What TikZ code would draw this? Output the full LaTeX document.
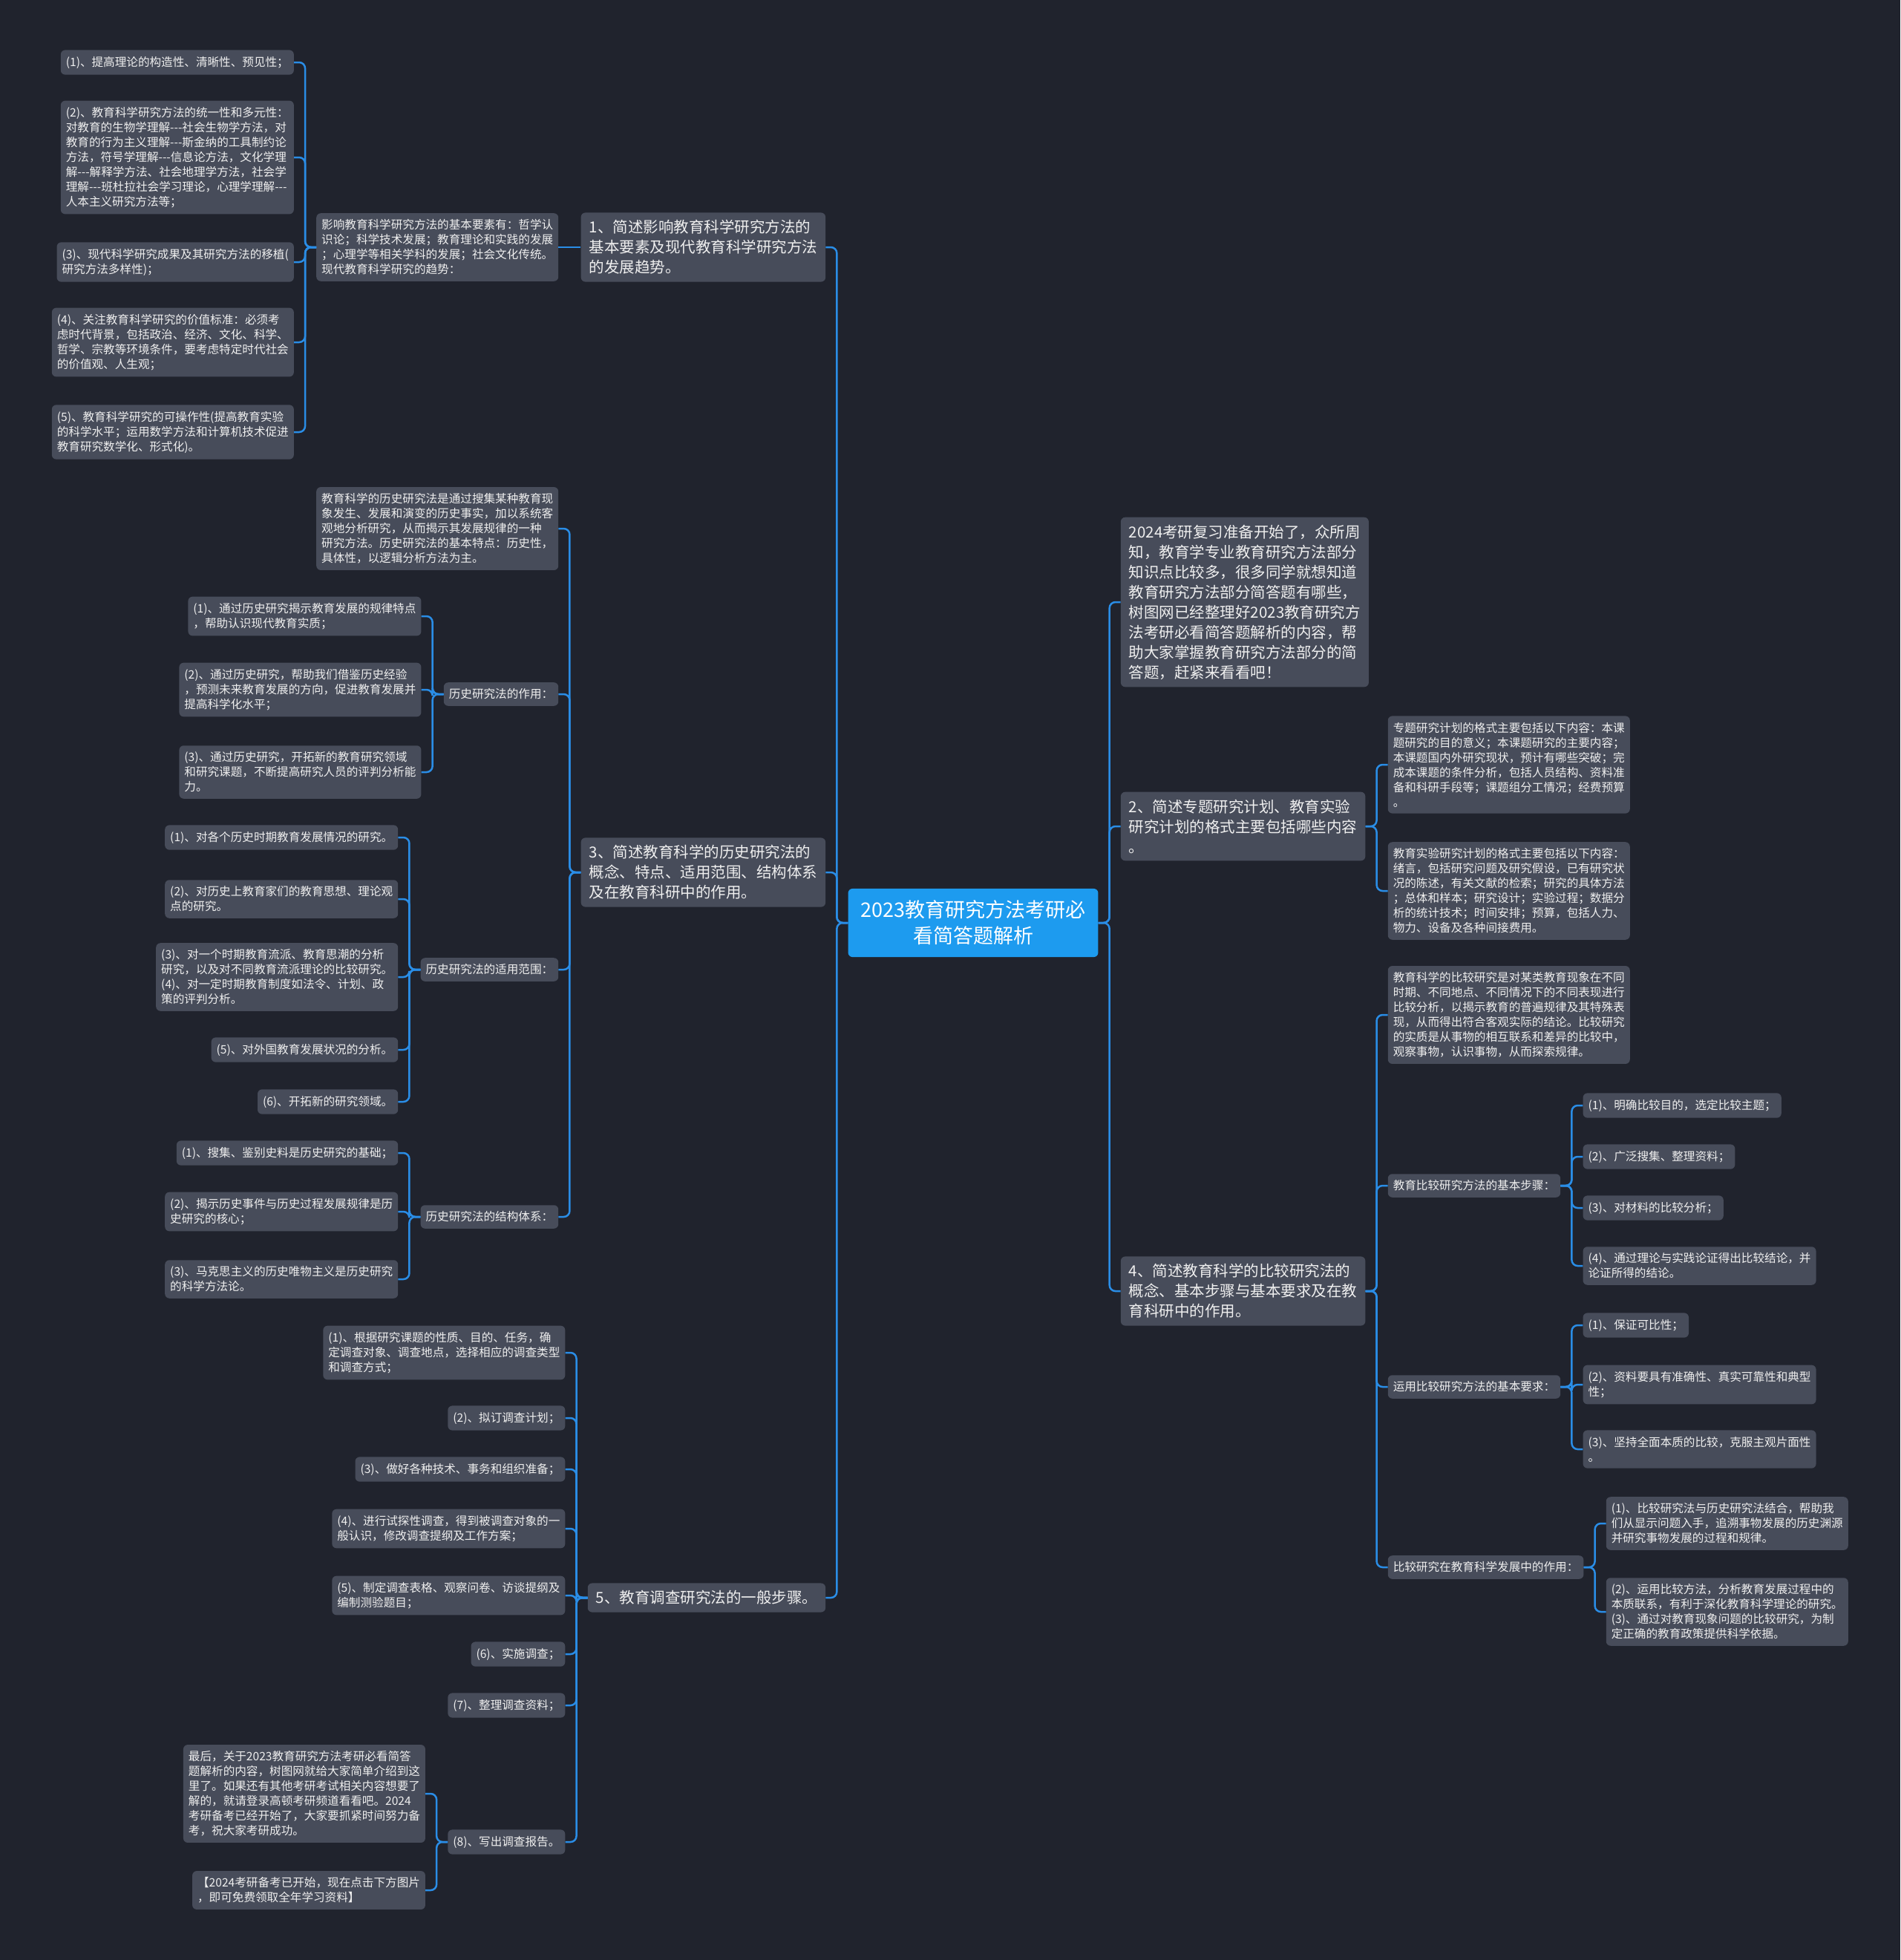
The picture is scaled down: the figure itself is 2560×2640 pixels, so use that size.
\documentclass[tikz,border=0pt]{standalone}
\usepackage{fontspec}
\usepackage{xcolor}
\usepackage{tikz}
\usetikzlibrary{positioning}

\newfontfamily\cjk{Noto Sans CJK SC}

\definecolor{fundo}{HTML}{20232D}
\definecolor{caixa}{HTML}{474C5A}
\definecolor{linha}{HTML}{2A8DE6}
\definecolor{raiz}{HTML}{1D9BEF}
\definecolor{texto}{HTML}{EFEFEF}

\begin{document}
\begin{tikzpicture}[
    x=1pt, y=-1pt,
    node distance=30pt, % distância fixa entre pai e filhos
    every node/.style={
        fill=caixa,
        text=texto,
        rounded corners=6pt,
        align=left
    },
    leaf/.style={inner xsep=7pt, inner ysep=8.5pt, font=\cjk\fontsize{15.6}{20}\selectfont},
    topic/.style={inner xsep=11pt, inner ysep=10pt, font=\cjk\fontsize{20.5}{27}\selectfont},
    root/.style={fill=raiz, text=white, align=center, inner xsep=17pt, inner ysep=16pt,
        font=\cjk\fontsize{27}{35}\selectfont},
    link/.style={draw=linha, line width=2.5pt, rounded corners=8pt}
]
\useasboundingbox (0,0) rectangle (2560,2640);
\fill[fundo] (0,0) rectangle (2560,2640);

% --- Nó central ---
\node[root] (root) at (1311,1243) {2023教育研究方法考研必\\看简答题解析};

% --- Lado esquerdo: ramos 1, 3 e 5 ---
\node[topic] (b1) [left=of root, yshift=910pt] {1、简述影响教育科学研究方法的\\基本要素及现代教育科学研究方法\\的发展趋势。};
\node[topic] (b3) [left=of root, yshift=68pt] {3、简述教育科学的历史研究法的\\概念、特点、适用范围、结构体系\\及在教育科研中的作用。};
\node[topic] (b5) [left=of root, yshift=-909pt] {5、教育调查研究法的一般步骤。};

% ramo 1
\node[leaf] (b1c) [left=of b1] {影响教育科学研究方法的基本要素有：哲学认\\识论；科学技术发展；教育理论和实践的发展\\；心理学等相关学科的发展；社会文化传统。\\现代教育科学研究的趋势：};
\node[leaf] (l1) [left=of b1c, yshift=249pt] {(1)、提高理论的构造性、清晰性、预见性；};
\node[leaf] (l2) [left=of b1c, yshift=121pt] {(2)、教育科学研究方法的统一性和多元性：\\对教育的生物学理解---社会生物学方法，对\\教育的行为主义理解---斯金纳的工具制约论\\方法，符号学理解---信息论方法，文化学理\\解---解释学方法、社会地理学方法，社会学\\理解---班杜拉社会学习理论，心理学理解---\\人本主义研究方法等；};
\node[leaf] (l3) [left=of b1c, yshift=-20pt] {(3)、现代科学研究成果及其研究方法的移植(\\研究方法多样性)；};
\node[leaf] (l4) [left=of b1c, yshift=-128pt] {(4)、关注教育科学研究的价值标准：必须考\\虑时代背景，包括政治、经济、文化、科学、\\哲学、宗教等环境条件，要考虑特定时代社会\\的价值观、人生观；};
\node[leaf] (l5) [left=of b1c, yshift=-249pt] {(5)、教育科学研究的可操作性(提高教育实验\\的科学水平；运用数学方法和计算机技术促进\\教育研究数学化、形式化)。};

% ramo 3
\node[leaf] (c3a) [left=of b3, yshift=463pt] {教育科学的历史研究法是通过搜集某种教育现\\象发生、发展和演变的历史事实，加以系统客\\观地分析研究，从而揭示其发展规律的一种\\研究方法。历史研究法的基本特点：历史性，\\具体性，以逻辑分析方法为主。};
\node[leaf] (c3b) [left=of b3, yshift=240pt] {历史研究法的作用：};
\node[leaf] (c3c) [left=of b3, yshift=-131pt] {历史研究法的适用范围：};
\node[leaf] (c3d) [left=of b3, yshift=-464pt] {历史研究法的结构体系：};

\node[leaf] (r1) [left=of c3b, yshift=105pt] {(1)、通过历史研究揭示教育发展的规律特点\\，帮助认识现代教育实质；};
\node[leaf] (r2) [left=of c3b, yshift=6pt] {(2)、通过历史研究，帮助我们借鉴历史经验\\，预测未来教育发展的方向，促进教育发展并\\提高科学化水平；};
\node[leaf] (r3) [left=of c3b, yshift=-105pt] {(3)、通过历史研究，开拓新的教育研究领域\\和研究课题，不断提高研究人员的评判分析能\\力。};

\node[leaf] (a1) [left=of c3c, yshift=178pt] {(1)、对各个历史时期教育发展情况的研究。};
\node[leaf] (a2) [left=of c3c, yshift=95pt] {(2)、对历史上教育家们的教育思想、理论观\\点的研究。};
\node[leaf] (a3) [left=of c3c, yshift=-10pt] {(3)、对一个时期教育流派、教育思潮的分析\\研究，以及对不同教育流派理论的比较研究。\\(4)、对一定时期教育制度如法令、计划、政\\策的评判分析。};
\node[leaf] (a5) [left=of c3c, yshift=-108pt] {(5)、对外国教育发展状况的分析。};
\node[leaf] (a6) [left=of c3c, yshift=-178pt] {(6)、开拓新的研究领域。};

\node[leaf] (k1) [left=of c3d, yshift=86pt] {(1)、搜集、鉴别史料是历史研究的基础；};
\node[leaf] (k2) [left=of c3d, yshift=7pt] {(2)、揭示历史事件与历史过程发展规律是历\\史研究的核心；};
\node[leaf] (k3) [left=of c3d, yshift=-84pt] {(3)、马克思主义的历史唯物主义是历史研究\\的科学方法论。};

% ramo 5
\node[leaf] (s1) [left=of b5, yshift=330pt] {(1)、根据研究课题的性质、目的、任务，确\\定调查对象、调查地点，选择相应的调查类型\\和调查方式；};
\node[leaf] (s2) [left=of b5, yshift=242pt] {(2)、拟订调查计划；};
\node[leaf] (s3) [left=of b5, yshift=173pt] {(3)、做好各种技术、事务和组织准备；};
\node[leaf] (s4) [left=of b5, yshift=93pt] {(4)、进行试探性调查，得到被调查对象的一\\般认识，修改调查提纲及工作方案；};
\node[leaf] (s5) [left=of b5, yshift=3pt] {(5)、制定调查表格、观察问卷、访谈提纲及\\编制测验题目；};
\node[leaf] (s6) [left=of b5, yshift=-76pt] {(6)、实施调查；};
\node[leaf] (s7) [left=of b5, yshift=-145pt] {(7)、整理调查资料；};
\node[leaf] (s8) [left=of b5, yshift=-329pt] {(8)、写出调查报告。};

\node[leaf] (e1) [left=of s8, yshift=65pt] {最后，关于2023教育研究方法考研必看简答\\题解析的内容，树图网就给大家简单介绍到这\\里了。如果还有其他考研考试相关内容想要了\\解的，就请登录高顿考研频道看看吧。2024\\考研备考已经开始了，大家要抓紧时间努力备\\考，祝大家考研成功。};
\node[leaf] (e2) [left=of s8, yshift=-65pt] {【2024考研备考已开始，现在点击下方图片\\，即可免费领取全年学习资料】};

% --- Lado direito: introdução, ramos 2 e 4 ---
\node[topic] (intro) [right=of root, yshift=432pt] {2024考研复习准备开始了，众所周\\知，教育学专业教育研究方法部分\\知识点比较多，很多同学就想知道\\教育研究方法部分简答题有哪些，\\树图网已经整理好2023教育研究方\\法考研必看简答题解析的内容，帮\\助大家掌握教育研究方法部分的简\\答题，赶紧来看看吧！};
\node[topic] (b2) [right=of root, yshift=130pt] {2、简述专题研究计划、教育实验\\研究计划的格式主要包括哪些内容\\。};
\node[topic] (b4) [right=of root, yshift=-496pt] {4、简述教育科学的比较研究法的\\概念、基本步骤与基本要求及在教\\育科研中的作用。};

% ramo 2
\node[leaf] (p1) [right=of b2, yshift=83pt] {专题研究计划的格式主要包括以下内容：本课\\题研究的目的意义；本课题研究的主要内容；\\本课题国内外研究现状，预计有哪些突破；完\\成本课题的条件分析，包括人员结构、资料准\\备和科研手段等；课题组分工情况；经费预算\\。};
\node[leaf] (p2) [right=of b2, yshift=-87pt] {教育实验研究计划的格式主要包括以下内容：\\绪言，包括研究问题及研究假设，已有研究状\\况的陈述，有关文献的检索；研究的具体方法\\；总体和样本；研究设计；实验过程；数据分\\析的统计技术；时间安排；预算，包括人力、\\物力、设备及各种间接费用。};

% ramo 4
\node[leaf] (q1) [right=of b4, yshift=372pt] {教育科学的比较研究是对某类教育现象在不同\\时期、不同地点、不同情况下的不同表现进行\\比较分析，以揭示教育的普遍规律及其特殊表\\现，从而得出符合客观实际的结论。比较研究\\的实质是从事物的相互联系和差异的比较中，\\观察事物，认识事物，从而探索规律。};
\node[leaf] (q2) [right=of b4, yshift=142pt] {教育比较研究方法的基本步骤：};
\node[leaf] (q3) [right=of b4, yshift=-129pt] {运用比较研究方法的基本要求：};
\node[leaf] (q4) [right=of b4, yshift=-372pt] {比较研究在教育科学发展中的作用：};

\node[leaf] (t1) [right=of q2, yshift=108pt] {(1)、明确比较目的，选定比较主题；};
\node[leaf] (t2) [right=of q2, yshift=39pt] {(2)、广泛搜集、整理资料；};
\node[leaf] (t3) [right=of q2, yshift=-30pt] {(3)、对材料的比较分析；};
\node[leaf] (t4) [right=of q2, yshift=-108pt] {(4)、通过理论与实践论证得出比较结论，并\\论证所得的结论。};

\node[leaf] (u1) [right=of q3, yshift=83pt] {(1)、保证可比性；};
\node[leaf] (u2) [right=of q3, yshift=3pt] {(2)、资料要具有准确性、真实可靠性和典型\\性；};
\node[leaf] (u3) [right=of q3, yshift=-84pt] {(3)、坚持全面本质的比较，克服主观片面性\\。};

\node[leaf] (v1) [right=of q4, yshift=59pt] {(1)、比较研究法与历史研究法结合，帮助我\\们从显示问题入手，追溯事物发展的历史渊源\\并研究事物发展的过程和规律。};
\node[leaf] (v2) [right=of q4, yshift=-60pt] {(2)、运用比较方法，分析教育发展过程中的\\本质联系，有利于深化教育科学理论的研究。\\(3)、通过对教育现象问题的比较研究，为制\\定正确的教育政策提供科学依据。};

% --- Conexões ---
\draw[link] (root.west) -- ++(-15,0) |- (b1.east);
\draw[link] (root.west) -- ++(-15,0) |- (b3.east);
\draw[link] (root.west) -- ++(-15,0) |- (b5.east);
\draw[link] (root.east) -- ++(15,0) |- (intro.west);
\draw[link] (root.east) -- ++(15,0) |- (b2.west);
\draw[link] (root.east) -- ++(15,0) |- (b4.west);

\draw[link] (b1.west) -- (b1c.east);
\draw[link] (b1c.west) -- ++(-15,0) |- (l1.east);
\draw[link] (b1c.west) -- ++(-15,0) |- (l2.east);
\draw[link] (b1c.west) -- ++(-15,0) |- (l3.east);
\draw[link] (b1c.west) -- ++(-15,0) |- (l4.east);
\draw[link] (b1c.west) -- ++(-15,0) |- (l5.east);

\draw[link] (b3.west) -- ++(-15,0) |- (c3a.east);
\draw[link] (b3.west) -- ++(-15,0) |- (c3b.east);
\draw[link] (b3.west) -- ++(-15,0) |- (c3c.east);
\draw[link] (b3.west) -- ++(-15,0) |- (c3d.east);
\draw[link] (c3b.west) -- ++(-15,0) |- (r1.east);
\draw[link] (c3b.west) -- ++(-15,0) |- (r2.east);
\draw[link] (c3b.west) -- ++(-15,0) |- (r3.east);
\draw[link] (c3c.west) -- ++(-15,0) |- (a1.east);
\draw[link] (c3c.west) -- ++(-15,0) |- (a2.east);
\draw[link] (c3c.west) -- ++(-15,0) |- (a3.east);
\draw[link] (c3c.west) -- ++(-15,0) |- (a5.east);
\draw[link] (c3c.west) -- ++(-15,0) |- (a6.east);
\draw[link] (c3d.west) -- ++(-15,0) |- (k1.east);
\draw[link] (c3d.west) -- ++(-15,0) |- (k2.east);
\draw[link] (c3d.west) -- ++(-15,0) |- (k3.east);

\draw[link] (b5.west) -- ++(-15,0) |- (s1.east);
\draw[link] (b5.west) -- ++(-15,0) |- (s2.east);
\draw[link] (b5.west) -- ++(-15,0) |- (s3.east);
\draw[link] (b5.west) -- ++(-15,0) |- (s4.east);
\draw[link] (b5.west) -- ++(-15,0) |- (s5.east);
\draw[link] (b5.west) -- ++(-15,0) |- (s6.east);
\draw[link] (b5.west) -- ++(-15,0) |- (s7.east);
\draw[link] (b5.west) -- ++(-15,0) |- (s8.east);
\draw[link] (s8.west) -- ++(-15,0) |- (e1.east);
\draw[link] (s8.west) -- ++(-15,0) |- (e2.east);

\draw[link] (b2.east) -- ++(15,0) |- (p1.west);
\draw[link] (b2.east) -- ++(15,0) |- (p2.west);

\draw[link] (b4.east) -- ++(15,0) |- (q1.west);
\draw[link] (b4.east) -- ++(15,0) |- (q2.west);
\draw[link] (b4.east) -- ++(15,0) |- (q3.west);
\draw[link] (b4.east) -- ++(15,0) |- (q4.west);
\draw[link] (q2.east) -- ++(15,0) |- (t1.west);
\draw[link] (q2.east) -- ++(15,0) |- (t2.west);
\draw[link] (q2.east) -- ++(15,0) |- (t3.west);
\draw[link] (q2.east) -- ++(15,0) |- (t4.west);
\draw[link] (q3.east) -- ++(15,0) |- (u1.west);
\draw[link] (q3.east) -- ++(15,0) |- (u2.west);
\draw[link] (q3.east) -- ++(15,0) |- (u3.west);
\draw[link] (q4.east) -- ++(15,0) |- (v1.west);
\draw[link] (q4.east) -- ++(15,0) |- (v2.west);

\end{tikzpicture}
\end{document}
